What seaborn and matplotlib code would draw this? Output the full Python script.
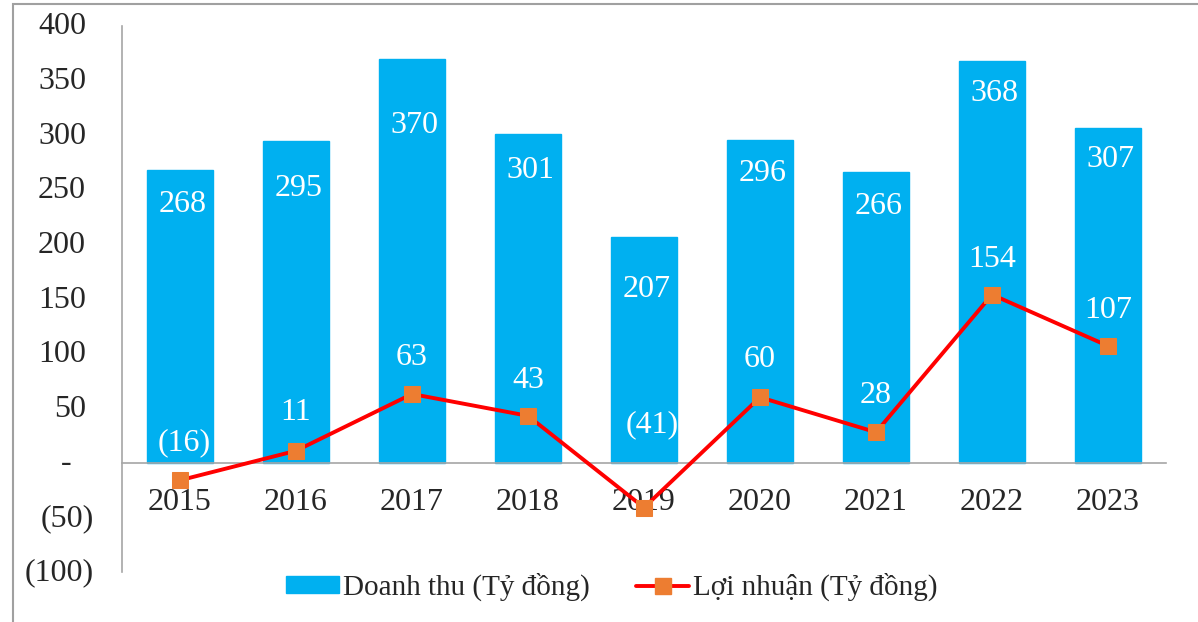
import matplotlib
matplotlib.use("Agg")
import matplotlib.pyplot as plt
import matplotlib.transforms as mtransforms
from matplotlib.patches import Patch, Rectangle
from matplotlib.lines import Line2D
import seaborn as sns
import pandas as pd
import numpy as np

# Dữ liệu
years = ["2015", "2016", "2017", "2018", "2019", "2020", "2021", "2022", "2023"]
doanh_thu = [268, 295, 370, 301, 207, 296, 266, 368, 307]
loi_nhuan = [-16, 11, 63, 43, -41, 60, 28, 154, 107]
y_ticks = [400, 350, 300, 250, 200, 150, 100, 50, 0, -50, -100]

bar_color = "#00B0F0"
line_color = "#FF0000"
marker_color = "#ED7D31"
grey = "#A6A6A6"


def fmt_acc(v):
    # kiểu số kế toán của Excel
    if v == 0:
        return "-"
    if v < 0:
        return "({})".format(abs(v))
    return str(v)


sns.set_style("white")
plt.rcParams["font.family"] = ["Liberation Serif", "DejaVu Serif"]
fs = 23
fs_leg = 21

df = pd.DataFrame({"Năm": years, "Doanh thu": doanh_thu,
                   "Lợi nhuận": loi_nhuan, "pos": np.arange(len(years))})

fig = plt.figure(figsize=(11.98, 6.22), dpi=100)
ax = fig.add_axes([122 / 1198, 1 - 572 / 622, (1166 - 122) / 1198, (572 - 26) / 622])

sns.barplot(data=df, x="pos", y="Doanh thu", color=bar_color, width=0.565,
            saturation=1, ax=ax, native_scale=True, edgecolor=bar_color)
sns.lineplot(data=df, x="pos", y="Lợi nhuận", color=line_color, linewidth=2.8,
             marker="s", markersize=11.5, markerfacecolor=marker_color,
             markeredgecolor=marker_color, ax=ax, zorder=5, sort=False)

ax.set_xlim(-0.5, len(years) - 0.5)
ax.set_ylim(-100, 400)
ax.set_xlabel("")
ax.set_ylabel("")

# trục
for s in ["top", "right"]:
    ax.spines[s].set_visible(False)
ax.spines["bottom"].set_position(("data", 0))
ax.spines["bottom"].set_color(grey)
ax.spines["bottom"].set_linewidth(1.2)
ax.spines["left"].set_color(grey)
ax.spines["left"].set_linewidth(1.2)

ax.set_xticks(np.arange(len(years)))
ax.set_xticklabels(years, fontsize=fs)
ax.tick_params(axis="x", length=0, pad=18)
ax.set_yticks(y_ticks)
ax.set_yticklabels([])
ax.tick_params(axis="y", length=0)

# nhãn trục tung
for v in y_ticks:
    lab = fmt_acc(v)
    if v < 0:
        dx, ha = -28, "right"
    elif v == 0:
        dx, ha = -56, "center"
    else:
        dx, ha = -36, "right"
    tr = mtransforms.offset_copy(ax.get_yaxis_transform(), fig=fig,
                                 x=dx * 0.72, y=-1 * 0.72, units="points")
    ax.text(0, v, lab, transform=tr, ha=ha, va="center", fontsize=fs)

# nhãn giá trị doanh thu
bar_off = [34, 48, 67, 36, 53, 34, 34, 33, 32]
for i, v in enumerate(doanh_thu):
    ax.annotate(fmt_acc(v), (i, v), xytext=(2, -bar_off[i] * 0.72),
                textcoords="offset points", ha="center", va="center",
                color="white", fontsize=fs, zorder=6)

# nhãn giá trị lợi nhuận
ln_off = [38, 38, 37, 35, 83, 38, 37, 35, 35]
ln_dx = [4, 0, 0, 0, 8, 0, 0, 0, 0]
for i, v in enumerate(loi_nhuan):
    ax.annotate(fmt_acc(v), (i, v), xytext=(ln_dx[i] * 0.72, ln_off[i] * 0.72),
                textcoords="offset points", ha="center", va="center",
                color="white", fontsize=fs, zorder=6)

handles = [Patch(facecolor=bar_color, edgecolor=bar_color),
           Line2D([0], [0], color=line_color, linewidth=2.8, marker="s",
                  markersize=11.5, markerfacecolor=marker_color,
                  markeredgecolor=marker_color)]
fig.legend(handles, ["Doanh thu (Tỷ đồng)", "Lợi nhuận (Tỷ đồng)"],
           loc="center", bbox_to_anchor=(612 / 1198, 1 - 587 / 622), ncol=2,
           frameon=False, fontsize=fs_leg, handlelength=1.8, handleheight=0.5,
           handletextpad=0.15, columnspacing=1.6)

# khung ảnh
fig.patches.append(Rectangle((13 / 1198, -0.05), 1.2, 1 - 4 / 622 + 0.05,
                             transform=fig.transFigure, fill=False,
                             edgecolor="#A0A0A0", linewidth=1.5))

fig.savefig("out.png", dpi=100)
